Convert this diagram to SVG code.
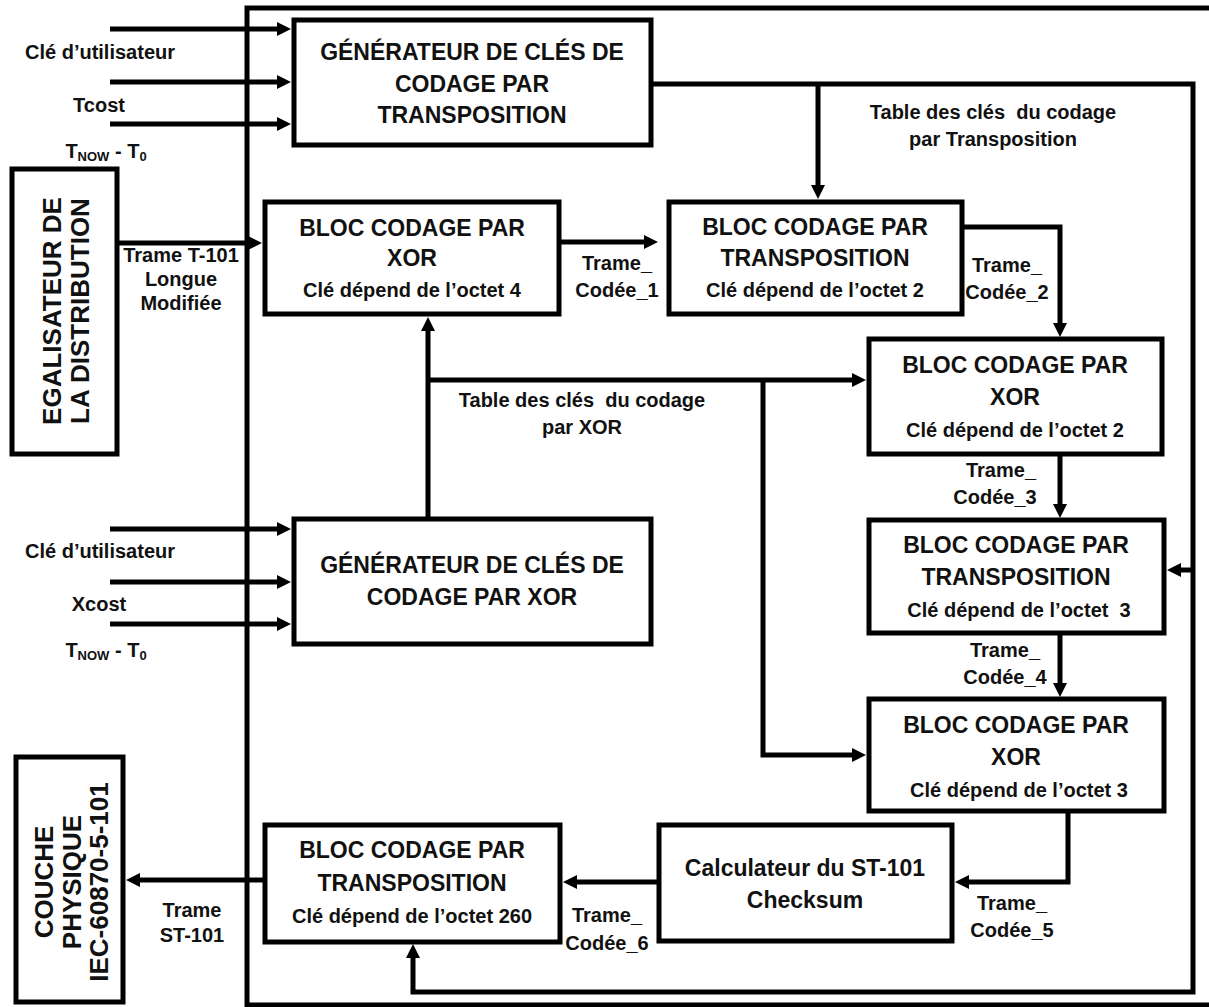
<svg xmlns="http://www.w3.org/2000/svg" width="1209" height="1007" viewBox="0 0 1209 1007">
<style>
.box{fill:#fff;stroke:#000;stroke-width:5}
.ln{fill:none;stroke:#000;stroke-width:5}
.t{font-family:"Liberation Sans",Arial,sans-serif;font-weight:bold;fill:#111;text-anchor:middle}
.h{font-size:23px}
.s{font-size:20px}
.l{font-size:20px}
.v{font-size:26px}
.sub{font-size:13px}
</style>
<defs>
<marker id="ar" markerUnits="userSpaceOnUse" markerWidth="15" markerHeight="14" refX="0" refY="7" orient="auto">
<path d="M0,0 L14,7 L0,14 z" fill="#000"/>
</marker>
</defs>
<rect width="1209" height="1007" fill="#fff"/>
<path class="ln" d="M1209,8 H247 V1005 H1209" stroke-width="4"/>

<g id="connectors">
<path class="ln" d="M110,29 H277" marker-end="url(#ar)"/>
<path class="ln" d="M110,82 H277" marker-end="url(#ar)"/>
<path class="ln" d="M110,124 H277" marker-end="url(#ar)"/>
<path class="ln" d="M110,529 H277" marker-end="url(#ar)"/>
<path class="ln" d="M110,582 H277" marker-end="url(#ar)"/>
<path class="ln" d="M110,624 H277" marker-end="url(#ar)"/>
<path class="ln" d="M117,243 H248" marker-end="url(#ar)"/>
<path class="ln" d="M559,242 H644" marker-end="url(#ar)"/>
<path class="ln" d="M651,84 H1193 V992 H413 V958" marker-end="url(#ar)"/>
<path class="ln" d="M818,84 V185" marker-end="url(#ar)"/>
<path class="ln" d="M1193,570 H1181" marker-end="url(#ar)"/>
<path class="ln" d="M962,227 H1060 V323" marker-end="url(#ar)"/>
<path class="ln" d="M1060,454 V504" marker-end="url(#ar)"/>
<path class="ln" d="M1060,633 V683" marker-end="url(#ar)"/>
<path class="ln" d="M1068,811 V882 H969" marker-end="url(#ar)"/>
<path class="ln" d="M659,882 H577" marker-end="url(#ar)"/>
<path class="ln" d="M265,880 H140" marker-end="url(#ar)"/>
<path class="ln" d="M428,519 V331" marker-end="url(#ar)"/>
<path class="ln" d="M428,380 H852" marker-end="url(#ar)"/>
<path class="ln" d="M763,380 V755 H852" marker-end="url(#ar)"/>
</g>

<g id="labels">
<text class="t l" x="100" y="59">Clé d’utilisateur</text>
<text class="t l" x="99" y="112">Tcost</text>
<text class="t l" x="106" y="158">T<tspan class="sub" dy="3">NOW</tspan><tspan dy="-3"> - T</tspan><tspan class="sub" dy="3">0</tspan></text>
<text class="t l" x="100" y="558">Clé d’utilisateur</text>
<text class="t l" x="99" y="611">Xcost</text>
<text class="t l" x="106" y="657">T<tspan class="sub" dy="3">NOW</tspan><tspan dy="-3"> - T</tspan><tspan class="sub" dy="3">0</tspan></text>
<text class="t l" x="181" y="262">Trame T-101</text>
<text class="t l" x="181" y="286">Longue</text>
<text class="t l" x="181" y="310">Modifiée</text>
<text class="t l" x="617" y="270">Trame_</text>
<text class="t l" x="617" y="297">Codée_1</text>
<text class="t l" x="993" y="119" xml:space="preserve">Table des clés  du codage</text>
<text class="t l" x="993" y="146">par Transposition</text>
<text class="t l" x="1007" y="272">Trame_</text>
<text class="t l" x="1007" y="299">Codée_2</text>
<text class="t l" x="582" y="407" xml:space="preserve">Table des clés  du codage</text>
<text class="t l" x="582" y="434">par XOR</text>
<text class="t l" x="1001" y="477">Trame_</text>
<text class="t l" x="995" y="504">Codée_3</text>
<text class="t l" x="1005" y="657">Trame_</text>
<text class="t l" x="1005" y="684">Codée_4</text>
<text class="t l" x="1012" y="910">Trame_</text>
<text class="t l" x="1012" y="937">Codée_5</text>
<text class="t l" x="607" y="922">Trame_</text>
<text class="t l" x="607" y="950">Codée_6</text>
<text class="t l" x="192" y="917">Trame</text>
<text class="t l" x="192" y="942">ST-101</text>
</g>

<g id="gen-transposition">
<rect class="box" x="294" y="20" width="357" height="125"/>
<text class="t h" x="472" y="60">GÉNÉRATEUR DE CLÉS DE</text>
<text class="t h" x="472" y="92">CODAGE PAR</text>
<text class="t h" x="472" y="123">TRANSPOSITION</text>
</g>

<g id="gen-xor">
<rect class="box" x="294" y="519" width="357" height="125"/>
<text class="t h" x="472" y="573">GÉNÉRATEUR DE CLÉS DE</text>
<text class="t h" x="472" y="605">CODAGE PAR XOR</text>
</g>

<g id="egalisateur">
<rect class="box" x="12" y="169" width="105" height="285"/>
<text class="t v" transform="translate(61,311) rotate(-90)">EGALISATEUR DE</text>
<text class="t v" transform="translate(89,311) rotate(-90)">LA DISTRIBUTION</text>
</g>

<g id="couche">
<rect class="box" x="16" y="757" width="107" height="245"/>
<text class="t v" transform="translate(53,882) rotate(-90)">COUCHE</text>
<text class="t v" transform="translate(81,882) rotate(-90)">PHYSIQUE</text>
<text class="t v" transform="translate(108,882) rotate(-90)">IEC-60870-5-101</text>
</g>

<g id="xor-4">
<rect class="box" x="265" y="202" width="294" height="112"/>
<text class="t h" x="412" y="236">BLOC CODAGE PAR</text>
<text class="t h" x="412" y="266">XOR</text>
<text class="t s" x="412" y="297">Clé dépend de l’octet 4</text>
</g>

<g id="transpo-2">
<rect class="box" x="669" y="202" width="293" height="112"/>
<text class="t h" x="815" y="235">BLOC CODAGE PAR</text>
<text class="t h" x="815" y="266">TRANSPOSITION</text>
<text class="t s" x="815" y="297">Clé dépend de l’octet 2</text>
</g>

<g id="xor-2">
<rect class="box" x="869" y="339" width="293" height="115"/>
<text class="t h" x="1015" y="373">BLOC CODAGE PAR</text>
<text class="t h" x="1015" y="405">XOR</text>
<text class="t s" x="1015" y="437">Clé dépend de l’octet 2</text>
</g>

<g id="transpo-3">
<rect class="box" x="869" y="520" width="295" height="113"/>
<text class="t h" x="1016" y="553">BLOC CODAGE PAR</text>
<text class="t h" x="1016" y="585">TRANSPOSITION</text>
<text class="t s" x="1019" y="617" xml:space="preserve">Clé dépend de l’octet  3</text>
</g>

<g id="xor-3">
<rect class="box" x="869" y="699" width="295" height="112"/>
<text class="t h" x="1016" y="733">BLOC CODAGE PAR</text>
<text class="t h" x="1016" y="765">XOR</text>
<text class="t s" x="1019" y="797">Clé dépend de l’octet 3</text>
</g>

<g id="checksum">
<rect class="box" x="659" y="825" width="293" height="116"/>
<text class="t h" x="805" y="876">Calculateur du ST-101</text>
<text class="t h" x="805" y="908">Checksum</text>
</g>

<g id="transpo-260">
<rect class="box" x="265" y="825" width="295" height="117"/>
<text class="t h" x="412" y="858">BLOC CODAGE PAR</text>
<text class="t h" x="412" y="891">TRANSPOSITION</text>
<text class="t s" x="412" y="923">Clé dépend de l’octet 260</text>
</g>
</svg>
